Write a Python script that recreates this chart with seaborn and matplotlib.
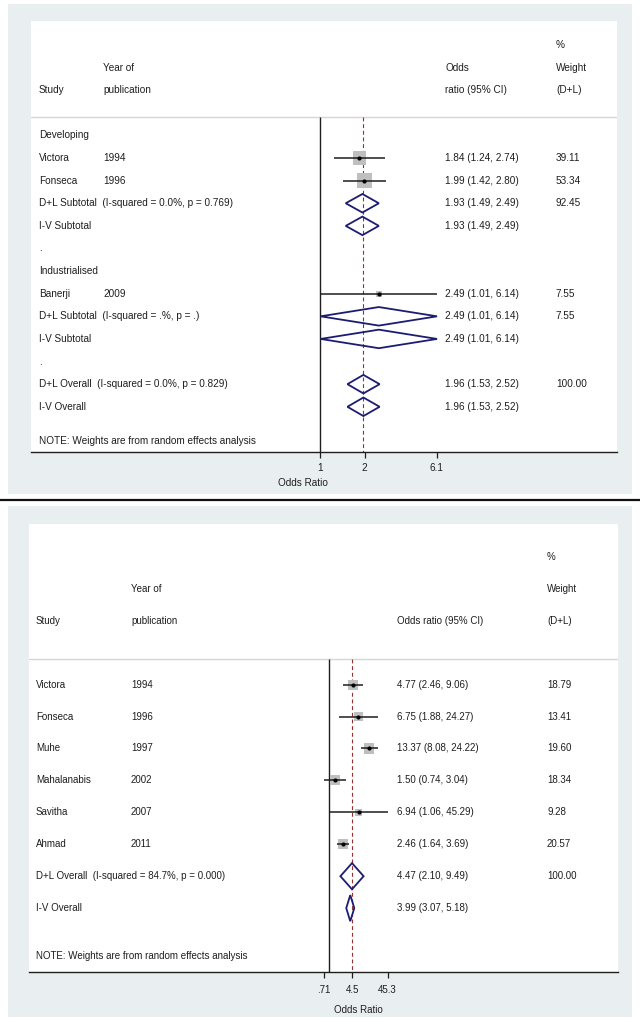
import numpy as np
import pandas as pd
import matplotlib
matplotlib.use("Agg")
import matplotlib.pyplot as plt
import matplotlib.transforms as mtransforms
from matplotlib.patches import Rectangle
from matplotlib.lines import Line2D
from matplotlib.ticker import NullLocator
import seaborn as sns

# ------------------------------------------------------------------
# Panel 1: developing vs industrialised subgroups
# ------------------------------------------------------------------
top_study = ["Developing", "Victora", "Fonseca",
             "D+L Subtotal  (I-squared = 0.0%, p = 0.769)", "I-V Subtotal", ".",
             "Industrialised", "Banerji",
             "D+L Subtotal  (I-squared = .%, p = .)", "I-V Subtotal", ".",
             "D+L Overall  (I-squared = 0.0%, p = 0.829)", "I-V Overall"]
top_year = ["", "1994", "1996", "", "", "", "", "2009", "", "", "", "", ""]
top_kind = ["label", "study", "study", "pooled", "pooled", "label",
            "label", "study", "pooled", "pooled", "label", "pooled", "pooled"]
top_or = [np.nan, 1.84, 1.99, 1.93, 1.93, np.nan, np.nan, 2.49, 2.49, 2.49, np.nan, 1.96, 1.96]
top_lo = [np.nan, 1.24, 1.42, 1.49, 1.49, np.nan, np.nan, 1.01, 1.01, 1.01, np.nan, 1.53, 1.53]
top_hi = [np.nan, 2.74, 2.80, 2.49, 2.49, np.nan, np.nan, 6.14, 6.14, 6.14, np.nan, 2.52, 2.52]
top_weight = [np.nan, 39.11, 53.34, 92.45, np.nan, np.nan, np.nan, 7.55, 7.55, np.nan, np.nan, 100.00, np.nan]
top_ticks = [1, 2, 6.1]
top_ticklabels = ["1", "2", "6.1"]

# ------------------------------------------------------------------
# Panel 2: all studies
# ------------------------------------------------------------------
bot_study = ["Victora", "Fonseca", "Muhe", "Mahalanabis", "Savitha", "Ahmad",
             "D+L Overall  (I-squared = 84.7%, p = 0.000)", "I-V Overall"]
bot_year = ["1994", "1996", "1997", "2002", "2007", "2011", "", ""]
bot_kind = ["study"] * 6 + ["pooled", "pooled"]
bot_or = [4.77, 6.75, 13.37, 1.50, 6.94, 2.46, 4.47, 3.99]
bot_lo = [2.46, 1.88, 8.08, 0.74, 1.06, 1.64, 2.10, 3.07]
bot_hi = [9.06, 24.27, 24.22, 3.04, 45.29, 3.69, 9.49, 5.18]
bot_weight = [18.79, 13.41, 19.60, 18.34, 9.28, 20.57, 100.00, np.nan]
bot_ticks = [0.71, 4.5, 45.3]
bot_ticklabels = [".71", "4.5", "45.3"]

NOTE = "NOTE: Weights are from random effects analysis"

W, H = 640, 1019
BG = "#e9eff1"
NAVY = "#1c1c72"
MAROON = "#9a2e2e"
INK = "#1e1e1e"

sns.set_theme(style="white")
plt.rcParams['font.family'] = ['Liberation Sans', 'DejaVu Sans']

fig = plt.figure(figsize=(W / 100, H / 100), dpi=100)
fig.patch.set_facecolor("white")


def px_box(x0, y0, x1, y1):
    return [x0 / W, 1 - y1 / H, (x1 - x0) / W, (y1 - y0) / H]


def forest(box, df, xlim, ylim, cols, headers, note_row, ticks, ticklabels,
           ref_value, size_at_100, fs, title_px, tick_pad):
    x0, y0, x1, y1 = box
    ax = fig.add_axes(px_box(x0, y0, x1, y1))
    frac = lambda px: (px - x0) / (x1 - x0)
    trans = mtransforms.blended_transform_factory(ax.transAxes, ax.transData)
    txt_kw = dict(ha="left", va="center", fontsize=fs, color=INK)

    hline_row = 3.2
    ax.axhline(hline_row, color="#d6d6d6", lw=1.0, zorder=1)
    ax.vlines(1, hline_row, ylim[0], color=INK, lw=1.0, zorder=2)
    ax.vlines(ref_value, hline_row, ylim[0], color=MAROON, lw=0.8,
              linestyles=(0, (3.5, 2.5)), zorder=2)

    studies = df[df["kind"] == "study"]
    ax.hlines(studies["row"], studies["lo"], studies["hi"], color=INK, lw=1.1, zorder=4)
    sns.scatterplot(data=studies, x="or", y="row", size="weight", sizes=(0, size_at_100),
                    size_norm=(0, 100), marker="s", color="#bfbfbf", linewidth=0,
                    legend=False, ax=ax, zorder=3)
    sns.scatterplot(data=studies, x="or", y="row", color="black", s=9, marker="o",
                    linewidth=0, legend=False, ax=ax, zorder=5)

    pooled = df[df["kind"] == "pooled"]
    for _, r in pooled.iterrows():
        h = 0.41
        ax.fill([r["lo"], r["or"], r["hi"], r["or"], r["lo"]],
                [r["row"], r["row"] - h, r["row"], r["row"] + h, r["row"]],
                fill=False, edgecolor=NAVY, lw=1.3, zorder=4)

    ax.set_xscale("log")
    ax.set_xlim(*xlim)
    ax.set_ylim(*ylim)
    ax.set_xlabel("")
    ax.set_ylabel("")
    ax.set_facecolor("white")
    for s in ["top", "left", "right"]:
        ax.spines[s].set_visible(False)
    ax.spines["bottom"].set_color(INK)
    ax.spines["bottom"].set_linewidth(1.0)
    ax.set_yticks([])
    ax.set_xticks(ticks)
    ax.set_xticklabels(ticklabels)
    ax.xaxis.set_minor_locator(NullLocator())
    ax.tick_params(axis="x", direction="out", length=4, width=0.9, pad=tick_pad,
                   labelsize=fs, colors=INK, bottom=True)

    for _, r in df.iterrows():
        ax.text(frac(cols["study"]), r["row"], r["study"], transform=trans, **txt_kw)
        if r["year"]:
            ax.text(frac(cols["year"]), r["row"], r["year"], transform=trans, **txt_kw)
        if not np.isnan(r["or"]):
            ax.text(frac(cols["or"]), r["row"],
                    f"{r['or']:.2f} ({r['lo']:.2f}, {r['hi']:.2f})", transform=trans, **txt_kw)
        if not np.isnan(r["weight"]):
            ax.text(frac(cols["weight"]), r["row"], f"{r['weight']:.2f}", transform=trans, **txt_kw)

    for row, key, txt in headers:
        ax.text(frac(cols[key]), row, txt, transform=trans, **txt_kw)
    ax.text(frac(cols["study"]), note_row, NOTE, transform=trans, **txt_kw)

    ax.text(frac(title_px[0]), -(title_px[1] - y1) / (y1 - y0), "Odds Ratio",
            transform=ax.transAxes, ha="center", va="center", fontsize=fs, color=INK)
    return ax


# background panels and separator
fig.add_artist(Rectangle((8 / W, 1 - 494 / H), 624 / W, 490 / H, transform=fig.transFigure,
                         facecolor=BG, edgecolor="none", zorder=-2))
fig.add_artist(Rectangle((8 / W, 1 - 1017 / H), 624 / W, 511 / H, transform=fig.transFigure,
                         facecolor=BG, edgecolor="none", zorder=-2))
fig.add_artist(Line2D([0, 1], [1 - 500 / H] * 2, transform=fig.transFigure,
                      color="#111111", lw=1.6, zorder=-1))

top_df = pd.DataFrame({"study": top_study, "year": top_year, "kind": top_kind,
                       "or": top_or, "lo": top_lo, "hi": top_hi, "weight": top_weight})
top_df["row"] = np.arange(len(top_df)) + 4

forest(box=(31, 21, 617, 452), df=top_df,
       xlim=(10 ** (-289 / 148.5), 10 ** (297 / 148.5)), ylim=(18, -1.06),
       cols={"study": 39, "year": 103, "or": 445, "weight": 556},
       headers=[(0, "weight", "%"), (1, "year", "Year of"), (1, "or", "Odds"),
                (1, "weight", "Weight"), (2, "study", "Study"), (2, "year", "publication"),
                (2, "or", "ratio (95% CI)"), (2, "weight", "(D+L)")],
       note_row=17.5, ticks=top_ticks, ticklabels=top_ticklabels, ref_value=1.96,
       size_at_100=230, fs=7.2, title_px=(303, 483), tick_pad=3.8)

bot_df = pd.DataFrame({"study": bot_study, "year": bot_year, "kind": bot_kind,
                       "or": bot_or, "lo": bot_lo, "hi": bot_hi, "weight": bot_weight})
bot_df["row"] = np.arange(len(bot_df)) + 4

forest(box=(29, 524, 618, 972), df=bot_df,
       xlim=(10 ** (-300 / 35.4), 10 ** (289 / 35.4)), ylim=(13, -1.03),
       cols={"study": 36, "year": 131, "or": 397, "weight": 547},
       headers=[(0, "weight", "%"), (1, "year", "Year of"), (1, "weight", "Weight"),
                (2, "study", "Study"), (2, "year", "publication"),
                (2, "or", "Odds ratio (95% CI)"), (2, "weight", "(D+L)")],
       note_row=12.5, ticks=bot_ticks, ticklabels=bot_ticklabels, ref_value=4.47,
       size_at_100=274, fs=7.0, title_px=(358, 1010), tick_pad=5.2)

fig.savefig("out.png", dpi=100, facecolor="white")
